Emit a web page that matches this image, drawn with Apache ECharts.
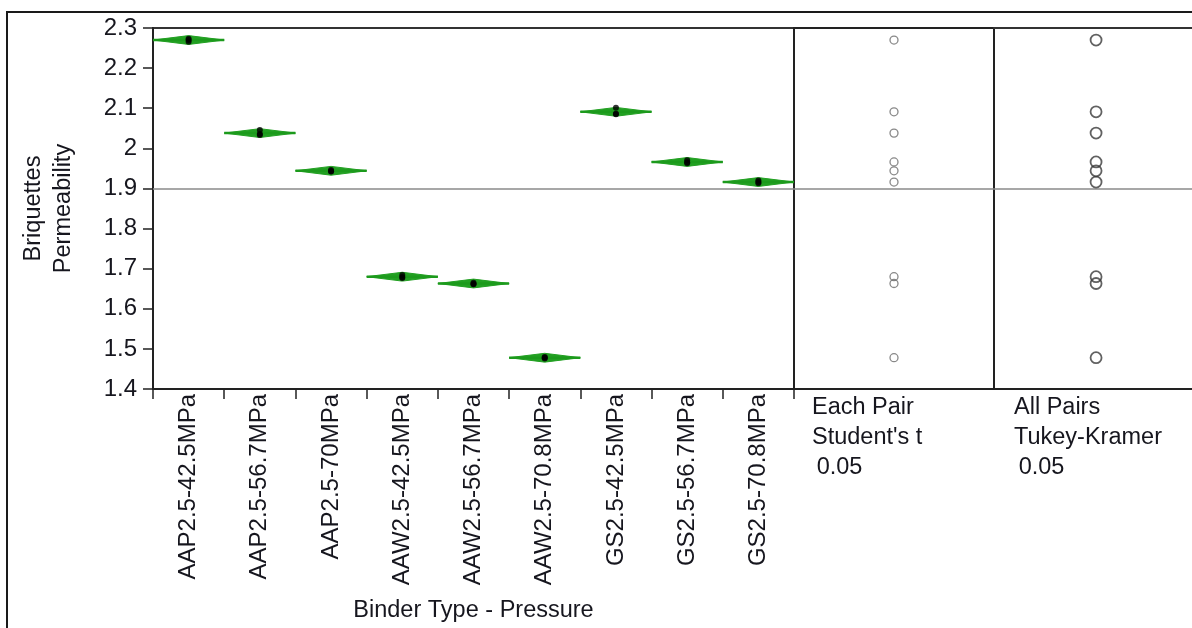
<!DOCTYPE html>
<html>
<head>
<meta charset="utf-8">
<script src="https://cdn.jsdelivr.net/npm/echarts@6/dist/echarts.min.js"></script>
<style>
html,body{margin:0;padding:0;background:#fff;}
#chart{width:1192px;height:628px;}
</style>
</head>
<body>
<div id="chart"></div>
<script>
// ---- data ----
const categories = ["AAP2.5-42.5MPa","AAP2.5-56.7MPa","AAP2.5-70MPa","AAW2.5-42.5MPa","AAW2.5-56.7MPa","AAW2.5-70.8MPa","GS2.5-42.5MPa","GS2.5-56.7MPa","GS2.5-70.8MPa"];
const groupMeans = [2.270, 2.038, 1.944, 1.680, 1.663, 1.478, 2.091, 1.966, 1.916];
const ciHalfWidth = [0.011, 0.011, 0.011, 0.011, 0.011, 0.011, 0.011, 0.011, 0.011];
const observations = [
  [2.266, 2.270, 2.273],
  [2.046, 2.036, 2.033],
  [1.946, 1.943, 1.942],
  [1.684, 1.679, 1.677],
  [1.665, 1.662, 1.661],
  [1.480, 1.478, 1.476],
  [2.101, 2.086, 2.085],
  [1.970, 1.965, 1.963],
  [1.920, 1.916, 1.913]
];
const grandMean = 1.8985;
const yTicks = {min: 1.4, max: 2.3, interval: 0.1};
const panelTitles = ["Each Pair\nStudent's t\n\u20090.05", "All Pairs\nTukey-Kramer\n\u20090.05"];
const yTitle = "Briquettes\nPermeability";
const xTitle = "Binder Type - Pressure";

// ---- chart ----
const FONT = "'Liberation Sans', Arial, sans-serif";
const FS = 24;
const FS2 = 23.5;
const TXT = '#16161e';
const chart = echarts.init(document.getElementById('chart'), null, {renderer: 'canvas'});

const diamondData = categories.map((c, i) => [i, groupMeans[i], ciHalfWidth[i]]);
const pointData = [];
observations.forEach((arr, i) => arr.forEach(v => pointData.push([i, v])));
const circleData = groupMeans.map(m => [0.5, m]);

const meanLine = {
  silent: true, symbol: 'none', label: {show: false},
  lineStyle: {color: '#8a8a8a', width: 1.5, type: 'solid'},
  data: [{yAxis: grandMean}]
};

const hiddenY = (gi, showLine) => ({
  gridIndex: gi, type: 'value', min: yTicks.min, max: yTicks.max, interval: yTicks.interval,
  axisLine: {show: !!showLine, onZero: false, lineStyle: {color: '#222', width: 2}},
  axisTick: {show: false}, axisLabel: {show: false}, splitLine: {show: false}
});
const hiddenX = (gi, max, pos, showLine, col) => ({
  gridIndex: gi, type: 'value', min: 0, max: max, position: pos,
  axisLine: {show: !!showLine, onZero: false, lineStyle: {color: col || '#222', width: 2}},
  axisTick: {show: false}, axisLabel: {show: false}, splitLine: {show: false}
});

const option = {
  backgroundColor: '#fff',
  animation: false,
  textStyle: {fontFamily: FONT},
  graphic: [
    {type: 'rect', silent: true, z: -1, shape: {x: 7, y: 12, width: 1400, height: 900},
     style: {fill: 'none', stroke: '#1a1a1a', lineWidth: 2}},
    {type: 'text', left: 812, top: 393, silent: true,
     style: {text: panelTitles[0], font: FS2 + 'px ' + FONT, fill: TXT, lineHeight: 30}},
    {type: 'text', left: 1014, top: 393, silent: true,
     style: {text: panelTitles[1], font: FS2 + 'px ' + FONT, fill: TXT, lineHeight: 30}}
  ],
  grid: [
    {left: 153, top: 28, width: 641, height: 361, show: true, borderColor: '#333', borderWidth: 2, backgroundColor: '#fff'},
    {left: 794, top: 28, width: 200, height: 361, show: true, borderColor: '#222', borderWidth: 2, backgroundColor: '#fff'},
    {left: 994, top: 28, right: 0, height: 361, show: false}
  ],
  xAxis: [
    {gridIndex: 0, type: 'category', data: categories, boundaryGap: true,
     name: xTitle, nameLocation: 'middle', nameGap: 210,
     nameTextStyle: {fontSize: FS2, color: TXT, fontFamily: FONT},
     axisLine: {show: true, lineStyle: {color: '#222', width: 2}},
     axisTick: {show: true, length: 10, lineStyle: {color: '#222', width: 1.5}},
     axisLabel: {rotate: 90, fontSize: FS, color: TXT, margin: 5, fontFamily: FONT, interval: 0},
     splitLine: {show: false}},
    hiddenX(1, 1, 'bottom', false),
    hiddenX(2, 0.97, 'bottom', true, '#222'),
    hiddenX(2, 0.97, 'top', true, '#333')
  ],
  yAxis: [
    {gridIndex: 0, type: 'value', min: yTicks.min, max: yTicks.max, interval: yTicks.interval,
     name: yTitle, nameLocation: 'middle', nameGap: 74, nameRotate: 90,
     nameTextStyle: {fontSize: FS2, color: TXT, fontFamily: FONT, lineHeight: 30},
     axisLine: {show: true, lineStyle: {color: '#222', width: 2}},
     axisTick: {show: true, length: 10, lineStyle: {color: '#222', width: 1.5}},
     axisLabel: {fontSize: FS, color: TXT, margin: 16, fontFamily: FONT},
     splitLine: {show: false}},
    hiddenY(1, false), hiddenY(2, true)
  ],
  series: [
    {
      type: 'custom', xAxisIndex: 0, yAxisIndex: 0, z: 3,
      data: diamondData,
      markLine: meanLine,
      renderItem: function (params, api) {
        const idx = api.value(0), m = api.value(1), h = api.value(2);
        const c = api.coord([idx, m]);
        const top = api.coord([idx, m + h]);
        const w = api.size([1, 0])[0];
        const dh = c[1] - top[1];
        const x0 = c[0] - w / 2, x1 = c[0] + w / 2;
        return {
          type: 'group',
          children: [
            {type: 'polygon', shape: {points: [[x0, c[1]], [c[0], c[1] - dh], [x1, c[1]], [c[0], c[1] + dh]]},
             style: {fill: '#22a022', stroke: '#22a022', lineWidth: 1}},
            {type: 'line', shape: {x1: x0, y1: c[1], x2: x1, y2: c[1]},
             style: {stroke: '#1c9a1c', lineWidth: 2.5}}
          ]
        };
      }
    },
    {
      type: 'scatter', xAxisIndex: 0, yAxisIndex: 0, z: 5,
      data: pointData, symbol: 'circle', symbolSize: 6,
      itemStyle: {color: '#000'}, silent: true
    },
    {
      type: 'scatter', xAxisIndex: 1, yAxisIndex: 1, z: 5,
      data: circleData, symbol: 'circle', symbolSize: 8,
      itemStyle: {color: 'rgba(255,255,255,0)', borderColor: '#6a6a6a', borderWidth: 1.3},
      markLine: meanLine, silent: true
    },
    {
      type: 'scatter', xAxisIndex: 2, yAxisIndex: 2, z: 5,
      data: circleData, symbol: 'circle', symbolSize: 11,
      itemStyle: {color: 'rgba(255,255,255,0)', borderColor: '#3a3a3a', borderWidth: 1.8},
      markLine: meanLine, silent: true
    }
  ]
};
chart.setOption(option);
</script>
</body>
</html>
